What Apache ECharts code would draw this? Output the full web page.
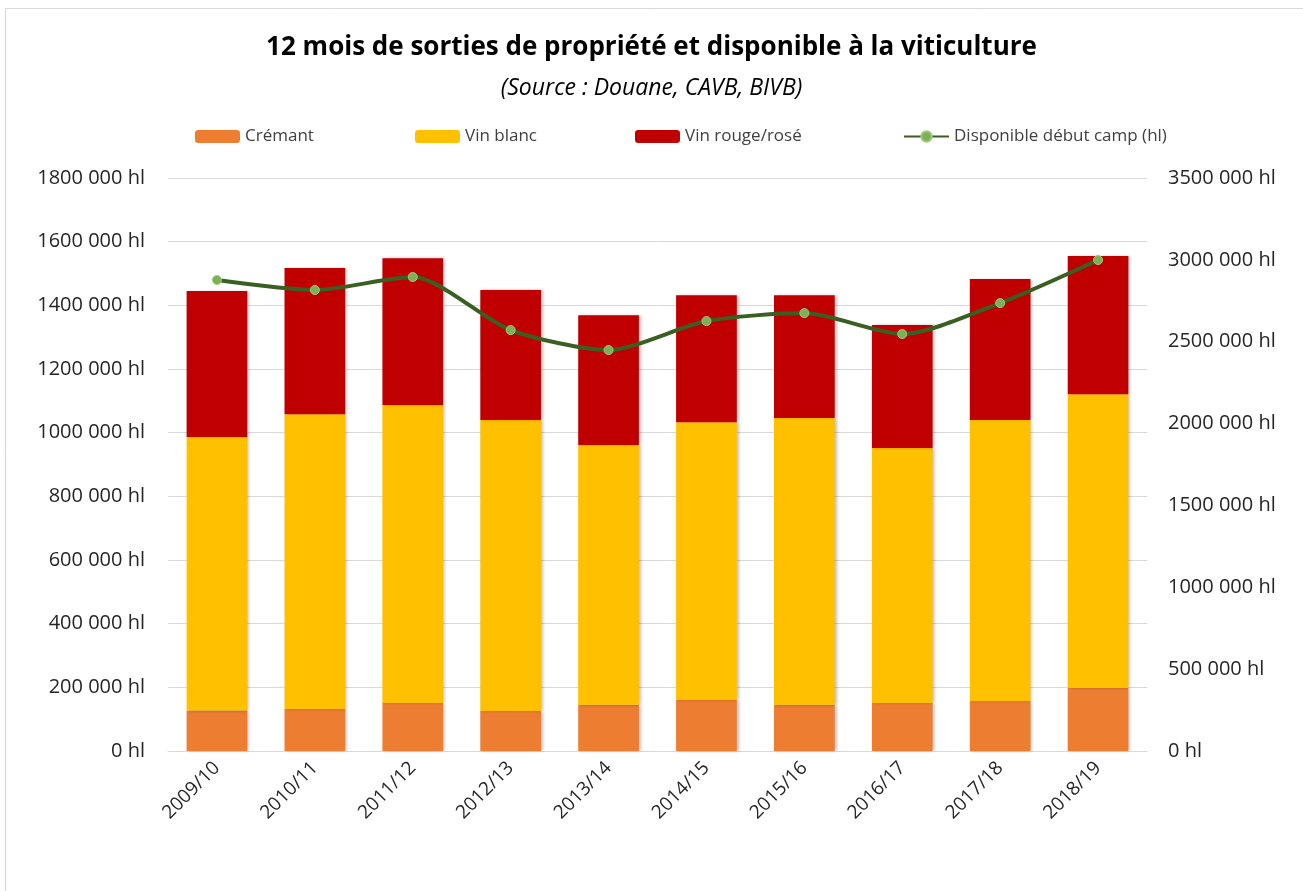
<!DOCTYPE html>
<html>
<head>
<meta charset="utf-8">
<script src="https://cdn.jsdelivr.net/npm/echarts@6/dist/echarts.min.js"></script>
<style>
  html, body { margin: 0; padding: 0; background: #fff; }
  #chart { width: 1303px; height: 891px; }
</style>
</head>
<body>
<div id="chart"></div>
<script>
// campagnes
const campagnes = ['2009/10', '2010/11', '2011/12', '2012/13', '2013/14', '2014/15', '2015/16', '2016/17', '2017/18', '2018/19'];
// sorties de propriété (hl)
const cremant = [127000, 132000, 151000, 126000, 145000, 160000, 145000, 151000, 157000, 198000];
const vinBlanc = [859000, 926000, 936000, 914000, 816000, 873000, 901000, 801000, 883000, 923000];
const vinRouge = [459000, 459000, 461000, 408000, 408000, 399000, 386000, 386000, 443000, 434000];
// disponible début campagne (hl)
const disponible = [2877000, 2816000, 2895000, 2571000, 2449000, 2626000, 2675000, 2547000, 2736000, 2999000];

const font = '"Open Sans", "Liberation Sans", sans-serif';

function fmtHl(v) {
    if (v < 1000) return v + ' hl';
    let rest = String(v % 1000).padStart(3, '0');
    return Math.floor(v / 1000) + ' ' + rest + ' hl';
}

let myChart = echarts.init(document.getElementById('chart'));

let barShadow = {
    shadowBlur: 3,
    shadowColor: 'rgba(0,0,0,0.25)',
    shadowOffsetX: 2,
    shadowOffsetY: 0
};

let legendText = { fontFamily: font, fontSize: 17, color: '#404040' };

let option = {
    animation: false,
    title: [{
        text: '12 mois de sorties de propriété et disponible à la viticulture',
        left: 'center',
        top: 30,
        textStyle: { fontFamily: font, fontSize: 26, fontWeight: 'bold', color: '#000' }
    }, {
        text: '(Source : Douane, CAVB, BIVB)',
        left: 'center',
        top: 72,
        textStyle: { fontFamily: font, fontSize: 23, fontStyle: 'italic', fontWeight: 'normal', color: '#000' }
    }],
    graphic: [{
        type: 'rect',
        shape: { x: 5.5, y: 8.5, width: 1300, height: 900 },
        style: { fill: 'none', stroke: '#d9d9d9', lineWidth: 1 },
        silent: true
    }],
    legend: [
        { data: ['Crémant'], left: 190, top: 123, itemWidth: 45, itemHeight: 13, textStyle: legendText },
        { data: ['Vin blanc'], left: 410, top: 123, itemWidth: 45, itemHeight: 13, textStyle: legendText },
        { data: ['Vin rouge/rosé'], left: 630, top: 123, itemWidth: 45, itemHeight: 13, textStyle: legendText },
        { data: ['Disponible début camp (hl)'], left: 898, top: 123, itemWidth: 45, itemHeight: 13, textStyle: legendText }
    ],
    grid: {
        left: 168,
        right: 156,
        top: 178,
        bottom: 140
    },
    xAxis: {
        type: 'category',
        data: campagnes,
        axisTick: { show: false },
        axisLine: { lineStyle: { color: '#d9d9d9' } },
        axisLabel: {
            rotate: 45,
            interval: 0,
            margin: 14,
            fontFamily: font,
            fontSize: 19,
            color: '#262626'
        }
    },
    yAxis: [{
        type: 'value',
        min: 0,
        max: 1800000,
        interval: 200000,
        axisLine: { show: false },
        axisTick: { show: false },
        splitLine: { lineStyle: { color: '#d9d9d9' } },
        axisLabel: {
            formatter: fmtHl,
            margin: 23,
            fontFamily: font,
            fontSize: 20,
            color: '#262626'
        }
    }, {
        type: 'value',
        min: 0,
        max: 3500000,
        interval: 500000,
        axisLine: { show: false },
        axisTick: { show: false },
        splitLine: { show: false },
        axisLabel: {
            formatter: fmtHl,
            margin: 21,
            fontFamily: font,
            fontSize: 20,
            color: '#262626'
        }
    }],
    series: [{
        name: 'Crémant',
        type: 'bar',
        stack: 'sorties',
        barWidth: '62%',
        itemStyle: Object.assign({ color: '#ED7D31' }, barShadow),
        data: cremant
    }, {
        name: 'Vin blanc',
        type: 'bar',
        stack: 'sorties',
        itemStyle: Object.assign({ color: '#FFC000' }, barShadow),
        data: vinBlanc
    }, {
        name: 'Vin rouge/rosé',
        type: 'bar',
        stack: 'sorties',
        itemStyle: Object.assign({ color: '#C00000' }, barShadow),
        data: vinRouge
    }, {
        name: 'Disponible début camp (hl)',
        type: 'line',
        yAxisIndex: 1,
        smooth: 0.25,
        symbol: 'circle',
        symbolSize: 9,
        z: 5,
        lineStyle: { color: '#3A5F22', width: 4 },
        itemStyle: { color: '#7DB155', borderColor: '#9FC97D', borderWidth: 1 },
        data: disponible
    }]
};

myChart.setOption(option);
window.onresize = function () {
    myChart.resize();
};
</script>
</body>
</html>
